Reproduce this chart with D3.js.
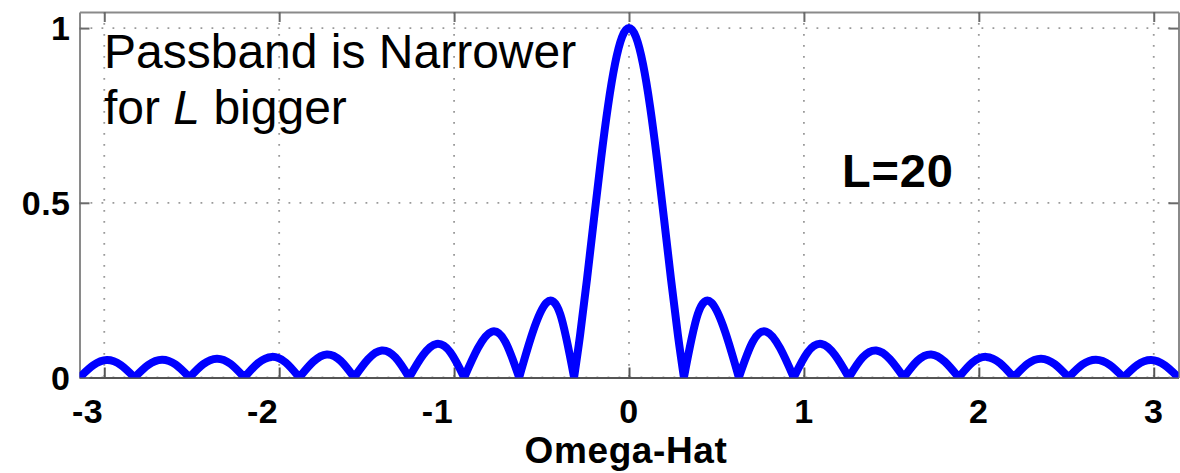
<!DOCTYPE html>
<html>
<head>
<meta charset="utf-8">
<script src="https://cdn.jsdelivr.net/npm/d3@7"></script>
<style>
  html, body { margin: 0; padding: 0; background: #fff; }
  svg { display: block; font-family: "Liberation Sans", Arial, Helvetica, sans-serif; }
</style>
</head>
<body>
<svg id="chart" width="1180" height="473"></svg>
<script>
// Frequency samples (radians)
const omega = [
  -3.1416, -3.063, -2.985, -2.906, -2.827,
  -2.749, -2.670, -2.592, -2.513,
  -2.435, -2.356, -2.278, -2.199,
  -2.121, -2.042, -1.963, -1.885,
  -1.806, -1.728, -1.649, -1.571,
  -1.492, -1.414, -1.335, -1.257,
  -1.178, -1.100, -1.021, -0.942,
  -0.864, -0.785, -0.707, -0.628,
  -0.550, -0.471, -0.393, -0.314,
  -0.28, -0.24, -0.20, -0.16, -0.12, -0.08, -0.04, 0,
  0.04, 0.08, 0.12, 0.16, 0.20, 0.24, 0.28, 0.314,
  0.393, 0.471, 0.550, 0.628,
  0.707, 0.785, 0.864, 0.942,
  1.021, 1.100, 1.178, 1.257,
  1.335, 1.414, 1.492, 1.571,
  1.649, 1.728, 1.806, 1.885,
  1.963, 2.042, 2.121, 2.199,
  2.278, 2.356, 2.435, 2.513,
  2.592, 2.670, 2.749, 2.827,
  2.906, 2.985, 3.063, 3.1416
];
// Magnitude of the L=20 averaging filter response
const magnitude = [
  0, 0.035, 0.050, 0.036, 0,
  0.036, 0.051, 0.037, 0,
  0.038, 0.054, 0.039, 0,
  0.041, 0.059, 0.043, 0,
  0.045, 0.066, 0.048, 0,
  0.052, 0.077, 0.057, 0,
  0.064, 0.096, 0.072, 0,
  0.084, 0.131, 0.102, 0,
  0.130, 0.214, 0.181, 0,
  0.120, 0.282, 0.455, 0.625, 0.777, 0.897, 0.974, 1,
  0.974, 0.897, 0.777, 0.625, 0.455, 0.282, 0.120, 0,
  0.181, 0.214, 0.130, 0,
  0.102, 0.131, 0.084, 0,
  0.072, 0.096, 0.064, 0,
  0.057, 0.077, 0.052, 0,
  0.048, 0.066, 0.045, 0,
  0.043, 0.059, 0.041, 0,
  0.039, 0.054, 0.038, 0,
  0.037, 0.051, 0.036, 0,
  0.036, 0.050, 0.035, 0
];
const xTicks = [-3, -2, -1, 0, 1, 2, 3];
const xTickLabels = ["-3", "-2", "-1", "0", "1", "2", "3"];
const yTicks = [0, 0.5, 1];
const yTickLabels = ["0", "0.5", "1"];
const xLabel = "Omega-Hat";
const annotationLine1 = "Passband is Narrower";
const annotationLine2a = "for ";
const annotationLine2b = "L";
const annotationLine2c = " bigger";
const seriesLabel = "L=20";

const svg = d3.select("#chart");
const pL = 79.5, pR = 1178.5, pT = 12, pB = 377.5;

const x = d3.scaleLinear().domain([-Math.PI, Math.PI]).range([pL, pR]);
const y = d3.scaleLinear().domain([0, 1.046]).range([pB, pT]);

// grid
const grid = svg.append("g").attr("stroke", "#999").attr("stroke-width", 1.8)
  .attr("stroke-dasharray", "1.8,9.2");
grid.selectAll("line.gx").data(xTicks).join("line").attr("class", "gx")
  .attr("x1", d => x(d)).attr("x2", d => x(d)).attr("y1", pT).attr("y2", pB);
grid.selectAll("line.gy").data(yTicks).join("line").attr("class", "gy")
  .attr("y1", d => y(d)).attr("y2", d => y(d)).attr("x1", pL).attr("x2", pR);

// axes (inward ticks on all four sides)
const tickLen = 10;
const axB = svg.append("g").attr("transform", `translate(0,${pB})`)
  .call(d3.axisBottom(x).tickValues(xTicks).tickSizeInner(-tickLen).tickSizeOuter(0).tickFormat(""));
const axT = svg.append("g").attr("transform", `translate(0,${pT})`)
  .call(d3.axisTop(x).tickValues(xTicks).tickSizeInner(-tickLen).tickSizeOuter(0).tickFormat(""));
const axL = svg.append("g").attr("transform", `translate(${pL},0)`)
  .call(d3.axisLeft(y).tickValues(yTicks).tickSizeInner(-tickLen).tickSizeOuter(0).tickFormat(""));
const axR = svg.append("g").attr("transform", `translate(${pR},0)`)
  .call(d3.axisRight(y).tickValues(yTicks).tickSizeInner(-tickLen).tickSizeOuter(0).tickFormat(""));
[axT, axL, axR].forEach(a => {
  a.selectAll("path.domain").attr("stroke", "#8a8a8a").attr("stroke-width", 2);
  a.selectAll(".tick line").attr("stroke", "#6a6a6a").attr("stroke-width", 2);
});
axB.selectAll("path.domain").attr("stroke", "#555").attr("stroke-width", 2);
axB.selectAll(".tick line").attr("stroke", "#555").attr("stroke-width", 2);

// curve: one smooth arch per lobe, joined at the zeros
const pts = omega.map((w, i) => [w, magnitude[i]]);
const lobes = [];
let cur = [pts[0]];
for (let i = 1; i < pts.length; i++) {
  cur.push(pts[i]);
  if (pts[i][1] === 0) { lobes.push(cur); cur = [pts[i]]; }
}
const line = d3.line().x(d => x(d[0])).y(d => y(d[1])).curve(d3.curveNatural);
const pathD = lobes.map(l => line(l))
  .map((s, i) => i === 0 ? s : s.replace(/^M/, "L"))
  .join("");

svg.append("clipPath").attr("id", "clip").append("rect")
  .attr("x", pL).attr("y", pT - 20).attr("width", pR - pL).attr("height", pB - pT + 20);
svg.append("path").attr("d", pathD).attr("clip-path", "url(#clip)")
  .attr("fill", "none").attr("stroke", "#0000ff").attr("stroke-width", 8)
  .attr("stroke-linejoin", "round").attr("stroke-linecap", "butt");

// tick labels
const lab = svg.append("g").attr("font-weight", "bold").attr("font-size", 34)
  .attr("letter-spacing", 0.5).attr("fill", "#000");
lab.selectAll("text.xl").data(xTicks).join("text").attr("class", "xl")
  .attr("x", d => d < 0 ? x(d) - 1 : x(d))
  .attr("y", 423)
  .attr("text-anchor", d => d < 0 ? "end" : "middle")
  .text((d, i) => xTickLabels[i]);
lab.selectAll("text.yl").data(yTicks).join("text").attr("class", "yl")
  .attr("x", pL - 9)
  .attr("y", d => y(d) + 12)
  .attr("text-anchor", "end")
  .text((d, i) => yTickLabels[i]);

// x axis label
svg.append("text").attr("x", x(0) - 3).attr("y", 463).attr("text-anchor", "middle")
  .attr("font-weight", "bold").attr("font-size", 37).attr("letter-spacing", 0.6).text(xLabel);

// annotations
svg.append("text").attr("x", 104).attr("y", 68).attr("font-size", 48).text(annotationLine1);
const t2 = svg.append("text").attr("x", 104).attr("y", 124).attr("font-size", 48);
t2.append("tspan").text(annotationLine2a);
t2.append("tspan").attr("font-style", "italic").text(annotationLine2b);
t2.append("tspan").text(annotationLine2c);

svg.append("text").attr("x", 842).attr("y", 187).attr("font-size", 47).attr("font-weight", "bold")
  .attr("letter-spacing", 0.8).text(seriesLabel);
</script>
</body>
</html>
